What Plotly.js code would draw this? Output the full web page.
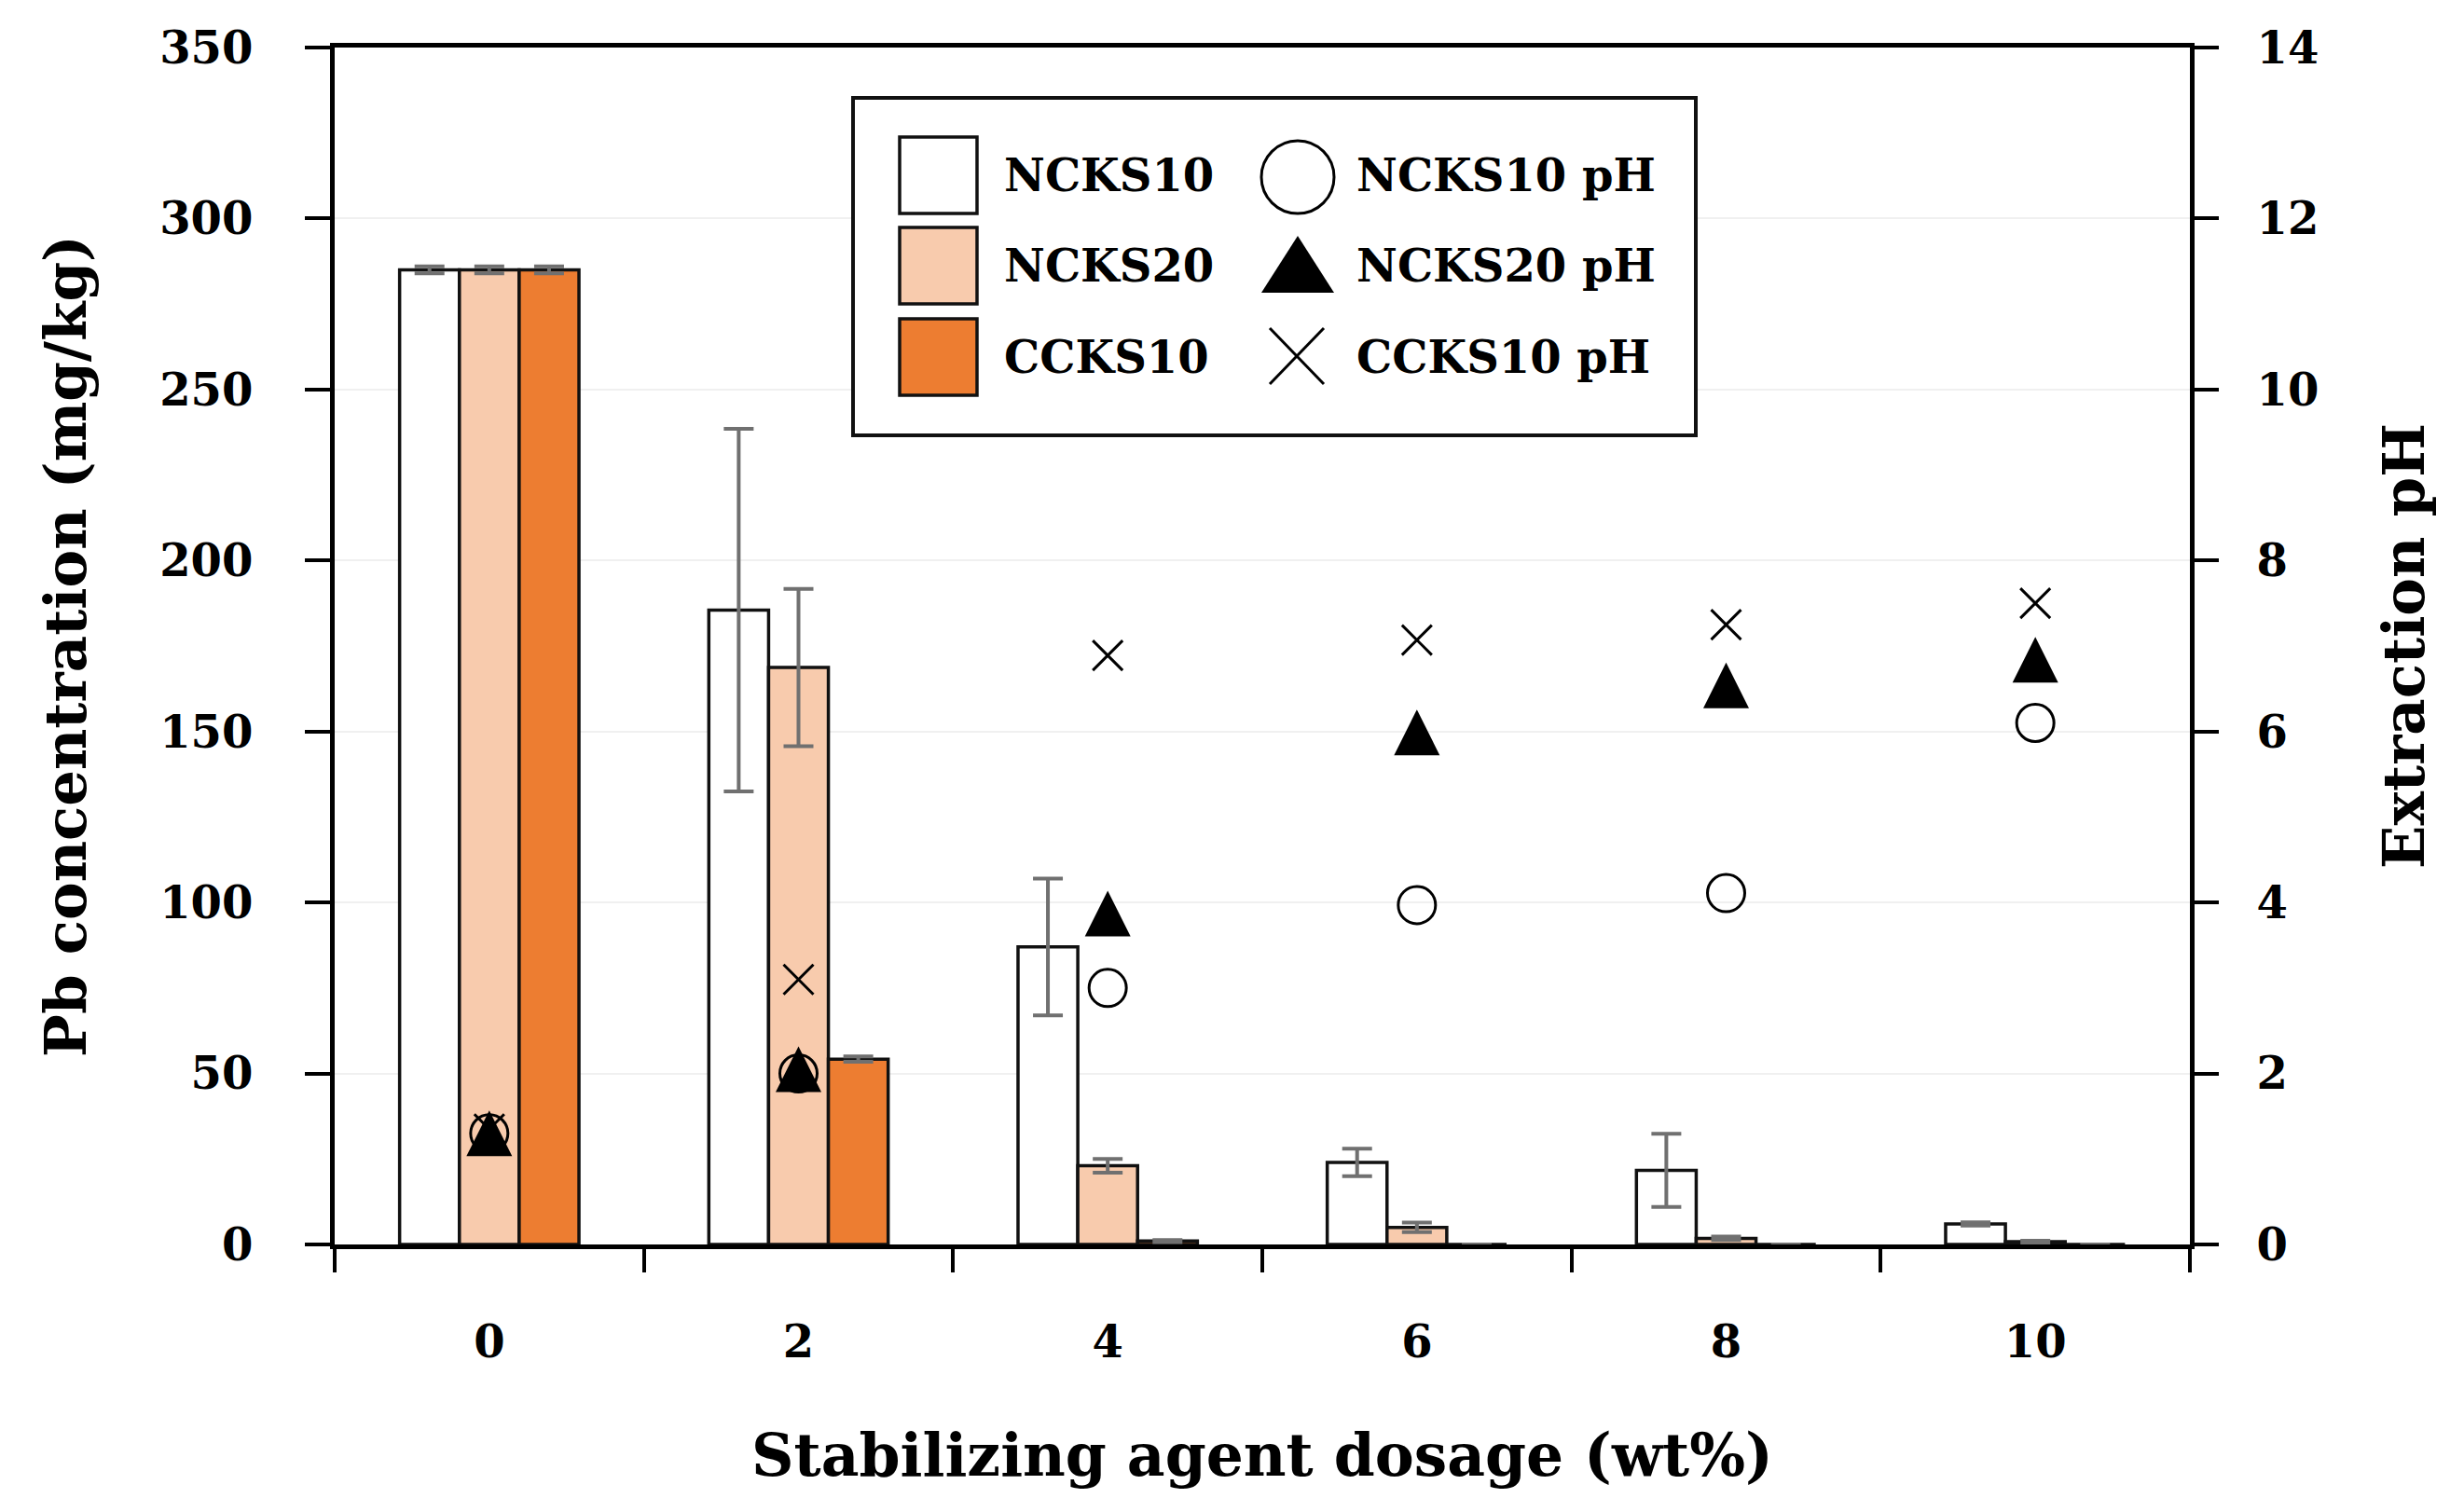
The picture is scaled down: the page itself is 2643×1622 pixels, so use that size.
<!DOCTYPE html>
<html>
<head>
<meta charset="utf-8">
<script src="https://cdn.plot.ly/plotly-3.0.1.min.js"></script>
<style>
html,body{margin:0;padding:0;background:#fff;}
#chart{width:2643px;height:1622px;}
</style>
</head>
<body>
<div id="chart"></div>
<script>
// ---------------- DATA ----------------
const dosages = ['0', '2', '4', '6', '8', '10'];

const ncks10    = [285, 185.5, 87, 24, 21.7, 6];
const ncks10Err = [1, 53, 20, 4, 10.7, 0.5];
const ncks20    = [285, 168.7, 23, 5, 1.8, 0.8];
const ncks20Err = [1, 23, 2, 1.4, 0.5, 0.3];
const ccks10    = [285, 54.2, 1, 0, 0, 0];
const ccks10Err = [1, 0.8, 0.3, 0, 0, 0];

const ncks10pH = [1.3, 2.0, 3.0, 3.97, 4.11, 6.1];
const ncks20pH = [1.3, 2.05, 3.87, 5.99, 6.54, 6.84];
const ccks10pH = [1.35, 3.1, 6.89, 7.07, 7.25, 7.5];

const leftTicks  = [0, 50, 100, 150, 200, 250, 300, 350];
const rightTicks = [0, 2, 4, 6, 8, 10, 12, 14];

const seriesNames = ['NCKS10', 'NCKS20', 'CCKS10'];
const pHNames = ['NCKS10 pH', 'NCKS20 pH', 'CCKS10 pH'];

// ---------------- STYLE ----------------
const FONT = 'DejaVu Serif';
const W = 2643, H = 1622;
const L = 359, R = 2349, T = 51, B = 1335;
const barColors = ['#ffffff', '#F8CBAD', '#ED7D31'];
const errColor = '#707070';

function bar(name, y, err, color) {
  return {
    type: 'bar', name: name, x: dosages, y: y, yaxis: 'y',
    marker: {color: color, line: {color: '#111111', width: 3.5}},
    error_y: {type: 'data', array: err, visible: true, color: errColor, thickness: 4, width: 16},
    showlegend: false, hoverinfo: 'x+y'
  };
}

const traces = [
  bar(seriesNames[0], ncks10, ncks10Err, barColors[0]),
  bar(seriesNames[1], ncks20, ncks20Err, barColors[1]),
  bar(seriesNames[2], ccks10, ccks10Err, barColors[2]),
  {
    type: 'scatter', mode: 'markers', name: pHNames[0], x: dosages, y: ncks10pH, yaxis: 'y2',
    marker: {symbol: 'circle-open', size: 40, color: '#000', line: {color: '#000', width: 3}},
    cliponaxis: false, showlegend: false
  },
  {
    type: 'scatter', mode: 'markers', name: pHNames[1], x: dosages, y: ncks20pH, yaxis: 'y2',
    marker: {symbol: 'arrow-down', angle: 180, standoff: 24.5, size: 49, color: '#000', line: {width: 0}},
    cliponaxis: false, showlegend: false
  },
  {
    type: 'scatter', mode: 'markers', name: pHNames[2], x: dosages, y: ccks10pH, yaxis: 'y2',
    marker: {symbol: 'x-thin-open', size: 32, color: '#000', line: {color: '#000', width: 3}},
    cliponaxis: false, showlegend: false
  }
];

// pixel -> paper helpers (legend box drawn inside the plot area)
const px = v => (v - L) / (R - L);
const py = v => (B - v) / (B - T);

const rowY = [188, 285, 383];
const shapes = [
  {type: 'rect', xref: 'paper', yref: 'paper', x0: px(915), x1: px(1819), y0: py(467), y1: py(105),
   line: {color: '#111', width: 4}, fillcolor: '#ffffff', layer: 'above'}
];
const annotations = [];
rowY.forEach((yc, i) => {
  shapes.push({type: 'rect', xref: 'paper', yref: 'paper', x0: px(965), x1: px(1048),
    y0: py(yc + 41), y1: py(yc - 41), line: {color: '#111', width: 3.5}, fillcolor: barColors[i], layer: 'above'});
  annotations.push({xref: 'paper', yref: 'paper', x: px(1075), y: py(yc), xanchor: 'left', yanchor: 'middle',
    text: seriesNames[i], showarrow: false, font: {family: FONT, size: 48, weight: 'bold', color: '#000'}});
  annotations.push({xref: 'paper', yref: 'paper', x: px(1453), y: py(yc), xanchor: 'left', yanchor: 'middle',
    text: pHNames[i], showarrow: false, font: {family: FONT, size: 48, weight: 'bold', color: '#000'}});
});
// legend glyphs: circle, triangle, cross
shapes.push({type: 'circle', xref: 'paper', yref: 'paper', x0: px(1353), x1: px(1431), y0: py(229), y1: py(151),
  line: {color: '#000', width: 3}, fillcolor: 'rgba(0,0,0,0)', layer: 'above'});
shapes.push({type: 'path', xref: 'paper', yref: 'paper',
  path: 'M' + px(1353) + ',' + py(314) + ' L' + px(1431) + ',' + py(314) + ' L' + px(1392) + ',' + py(253) + ' Z',
  line: {width: 0}, fillcolor: '#000', layer: 'above'});
shapes.push({type: 'line', xref: 'paper', yref: 'paper', x0: px(1362), x1: px(1420), y0: py(352), y1: py(412),
  line: {color: '#000', width: 3}, layer: 'above'});
shapes.push({type: 'line', xref: 'paper', yref: 'paper', x0: px(1362), x1: px(1420), y0: py(412), y1: py(352),
  line: {color: '#000', width: 3}, layer: 'above'});

const tickFont = {family: FONT, size: 48, weight: 'bold', color: '#000'};
const titleFont = {family: FONT, size: 61, weight: 'bold', color: '#000'};

const layout = {
  width: W, height: H,
  margin: {l: L, r: W - R, t: T, b: H - B, pad: 0},
  paper_bgcolor: '#ffffff', plot_bgcolor: '#ffffff',
  barmode: 'group', bargap: 0.42, bargroupgap: 0,
  showlegend: false,
  font: {family: FONT, color: '#000'},
  xaxis: {
    type: 'category', tickson: 'boundaries',
    ticks: 'outside', ticklen: 25, tickwidth: 4, tickcolor: '#000',
    showline: true, linewidth: 5, linecolor: '#000', mirror: true,
    showgrid: false, zeroline: false,
    tickfont: tickFont, ticklabelstandoff: 58,
    title: {text: 'Stabilizing agent dosage (wt%)', font: {family: FONT, size: 63, weight: 'bold', color: '#000'}, standoff: 75}
  },
  yaxis: {
    range: [0, 350], tickvals: leftTicks, ticktext: leftTicks.map(String),
    ticks: 'outside', ticklen: 27, tickwidth: 4, tickcolor: '#000',
    showline: true, linewidth: 5, linecolor: '#000',
    showgrid: true, gridcolor: '#f0f0f0', gridwidth: 2, zeroline: false,
    tickfont: tickFont, ticklabelstandoff: 46,
    title: {text: 'Pb concentration (mg/kg)', font: titleFont, standoff: 60}
  },
  yaxis2: {
    overlaying: 'y', side: 'right',
    range: [0, 14], tickvals: rightTicks, ticktext: rightTicks.map(String),
    ticks: 'outside', ticklen: 26, tickwidth: 4, tickcolor: '#000',
    showline: true, linewidth: 5, linecolor: '#000',
    showgrid: false, zeroline: false,
    tickfont: tickFont, ticklabelstandoff: 31,
    title: {text: 'Extraction pH', font: titleFont, standoff: 72}
  },
  shapes: shapes,
  annotations: annotations
};

Plotly.newPlot('chart', traces, layout, {displayModeBar: false, staticPlot: true});
</script>
</body>
</html>
